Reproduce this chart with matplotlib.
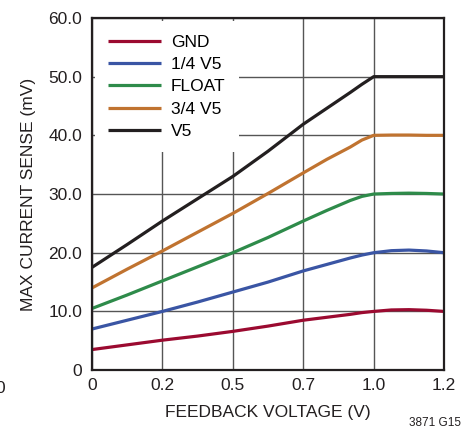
import matplotlib
matplotlib.use('Agg')
import matplotlib.pyplot as plt

plt.rcParams['font.family'] = ['Liberation Sans', 'DejaVu Sans']

# posições no eixo (grade igualmente espaçada, rótulos arredondados)
x = [0, 0.12, 0.24, 0.36, 0.48, 0.60, 0.72, 0.80, 0.88, 0.92, 0.96, 1.02, 1.08, 1.14, 1.2]

gnd = [3.5, 4.3, 5.1, 5.8, 6.6, 7.5, 8.5, 9.0, 9.5, 9.8, 10.0, 10.25, 10.3, 10.2, 10.0]
quarter = [7.0, 8.5, 10.0, 11.6, 13.3, 15.0, 16.9, 18.0, 19.1, 19.6, 20.0, 20.35, 20.45, 20.3, 20.0]
flt = [10.5, 12.8, 15.2, 17.6, 20.0, 22.6, 25.4, 27.2, 28.9, 29.6, 30.0, 30.1, 30.15, 30.1, 30.0]
three_q = [14.0, 17.2, 20.3, 23.5, 26.7, 30.1, 33.6, 35.9, 38.0, 39.2, 40.0, 40.05, 40.05, 40.0, 40.0]
v5 = [17.5, 21.4, 25.4, 29.2, 33.0, 37.3, 41.9, 44.6, 47.3, 48.7, 50.0, 50.0, 50.0, 50.0, 50.0]

nomes = ['GND', '1/4 V5', 'FLOAT', '3/4 V5', 'V5']
cores = ['#9b0a30', '#3a55a4', '#2e8b4a', '#c07330', '#231f20']

xticks = [0, 0.24, 0.48, 0.72, 0.96, 1.2]
xlabels = ['0', '0.2', '0.5', '0.7', '1.0', '1.2']
yticks = [0, 10, 20, 30, 40, 50, 60]
ylabels = ['0', '10.0', '20.0', '30.0', '40.0', '50.0', '60.0']

fig = plt.figure(figsize=(4.74, 4.38), dpi=100)
ax = fig.add_axes([0.194, 0.155, 0.743, 0.804])

for serie, nome, cor in zip([gnd, quarter, flt, three_q, v5], nomes, cores):
    ax.plot(x, serie, color=cor, lw=2.3, label=nome, solid_capstyle='butt')

ax.set_xlim(0, 1.2)
ax.set_ylim(0, 60)
ax.set_xticks(xticks)
ax.set_xticklabels(xlabels)
ax.set_yticks(yticks)
ax.set_yticklabels(ylabels)
ax.tick_params(length=0, labelsize=12.5, colors='#231f20')
ax.tick_params(axis='x', pad=6)
ax.tick_params(axis='y', pad=7)
ax.grid(True, color='#555555', lw=1)
ax.set_axisbelow(True)
for s in ax.spines.values():
    s.set_linewidth(1.6)
    s.set_color('#231f20')

ax.set_xlabel('FEEDBACK VOLTAGE (V)', fontsize=12.5, color='#231f20', labelpad=8)
ax.set_ylabel('MAX CURRENT SENSE (mV)', fontsize=12.5, color='#231f20', labelpad=9)

leg = ax.legend(loc='upper left', bbox_to_anchor=(0.0, 1.0), frameon=True,
                fontsize=12.5, handlelength=3.0, handletextpad=0.6,
                labelspacing=0.42, borderpad=0.75, borderaxespad=0.2)
leg.get_frame().set_facecolor('white')
leg.get_frame().set_edgecolor('none')
leg.get_frame().set_alpha(1)

fig.text(0.918, 0.034, '3871 G15', fontsize=8.5, color='#231f20', ha='center', va='center')
fig.text(0.0, 0.114, '0', fontsize=12.5, color='#231f20', ha='center', va='center')

fig.savefig('out.png', dpi=100)
